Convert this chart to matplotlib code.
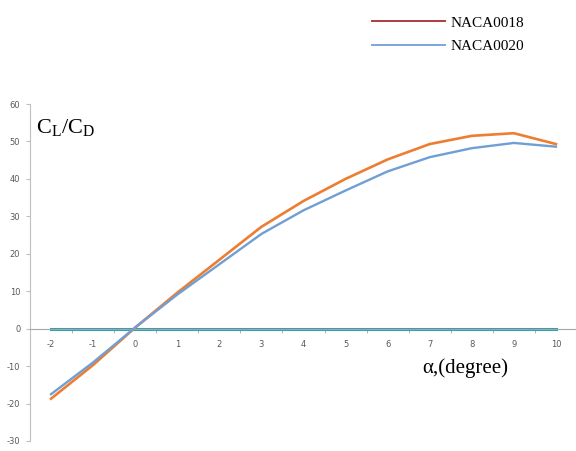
import matplotlib
matplotlib.use("Agg")
import matplotlib.pyplot as plt
from matplotlib.lines import Line2D
import numpy as np

plt.rcParams['mathtext.fontset'] = 'custom'
plt.rcParams['mathtext.rm'] = 'Liberation Serif'
plt.rcParams['mathtext.it'] = 'Liberation Serif'
plt.rcParams['axes.unicode_minus'] = False

# angle of attack (degree) and lift/drag ratio
alpha = [-2, -1, 0, 1, 2, 3, 4, 5, 6, 7, 8, 9, 10]
naca0018 = [-18.7, -9.7, 0.3, 9.6, 18.4, 27.2, 34.1, 40.0, 45.2, 49.3, 51.5, 52.2, 49.3]
naca0020 = [-17.5, -9.0, 0.3, 9.1, 17.2, 25.3, 31.6, 36.9, 42.0, 45.8, 48.2, 49.6, 48.6]
baseline = [0, 0, 0, 0, 0, 0, 0, 0, 0, 0, 0, 0, 0]
series_names = ["NACA0018", "NACA0020"]

fig = plt.figure(figsize=(5.76, 4.51), dpi=100)
ax = fig.add_axes([30 / 576, 10 / 451, 547 / 576, 337 / 451])

ax.plot(alpha, baseline, color='#2f9fb6', lw=2.2, zorder=2)
ax.plot(alpha, naca0018, color='#ed7d31', lw=1.9, zorder=3)
ax.plot(alpha, naca0020, color='#6f9fd3', lw=1.7, zorder=4)

ax.set_xlim(-2.5, 10.5)
ax.set_ylim(-30, 60)

ax.spines['top'].set_visible(False)
ax.spines['right'].set_visible(False)
ax.spines['bottom'].set_position(('data', 0))
ax.spines['bottom'].set_color('#a6a6a6')
ax.spines['left'].set_color('#bfbfbf')

ax.set_xticks(alpha)
ax.set_xticks(np.arange(-2.5, 10.6, 1), minor=True)
ax.tick_params(axis='x', which='major', length=0, pad=8, labelsize=6, labelcolor='#595959')
ax.tick_params(axis='x', which='minor', length=3, color='#a6a6a6', direction='out')
ax.set_yticks(range(-30, 61, 10))
ax.tick_params(axis='y', length=3, color='#bfbfbf', labelsize=6, labelcolor='#595959', pad=4)

fig.text(36 / 576, 1 - 128 / 451, r'$\mathrm{C_L/C_D}$', fontsize=16, va='center', ha='left')
fig.text(465 / 576, 1 - 368 / 451, 'α,(degree)', family='Liberation Serif', fontsize=15,
         va='center', ha='center')

handles = [Line2D([], [], color='#b03a3e', lw=1.4),
           Line2D([], [], color='#7ea6d9', lw=1.4)]
fig.legend(handles, series_names, loc='upper left', bbox_to_anchor=(372 / 576, 1 - 16 / 451),
           frameon=False, prop={'family': 'Liberation Serif', 'size': 11},
           handlelength=4.8, handletextpad=0.35, labelspacing=0.62,
           borderpad=0, borderaxespad=0)

fig.savefig("out.png", dpi=100)
